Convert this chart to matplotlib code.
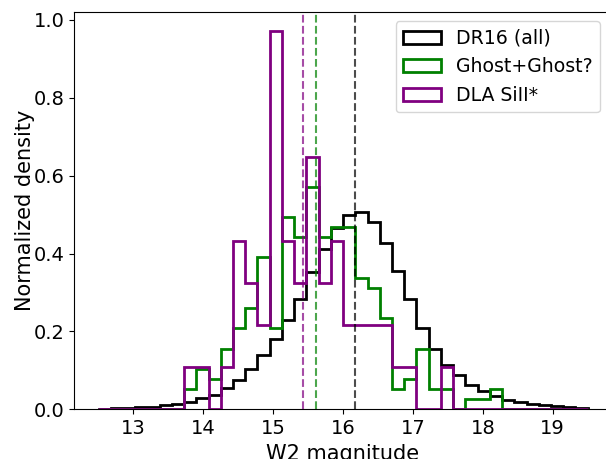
import numpy as np
import matplotlib
matplotlib.use('Agg')
import matplotlib.pyplot as plt

# W2 bins shared by the three samples
bins = np.linspace(12.5, 19.5, 41)

# normalized densities per bin
dr16_all = [0.002, 0.003, 0.004, 0.005, 0.007, 0.011, 0.013, 0.018, 0.029, 0.037,
            0.055, 0.074, 0.103, 0.139, 0.180, 0.229, 0.283, 0.352, 0.412, 0.466,
            0.498, 0.506, 0.480, 0.427, 0.356, 0.284, 0.208, 0.155, 0.114, 0.088,
            0.062, 0.047, 0.034, 0.025, 0.018, 0.014, 0.011, 0.008, 0.006, 0.003]

ghost = [0, 0, 0, 0, 0, 0, 0, 0.052, 0.104, 0.078,
         0.156, 0.208, 0.260, 0.390, 0.208, 0.494, 0.442, 0.571, 0.442, 0.468,
         0.468, 0.338, 0.312, 0.234, 0.052, 0.078, 0.156, 0.052, 0.052, 0,
         0.026, 0.026, 0.052, 0, 0, 0, 0, 0, 0, 0]

dla_siII = [0, 0, 0, 0, 0, 0, 0, 0.108, 0.108, 0,
            0.108, 0.432, 0.324, 0.216, 0.972, 0.432, 0.324, 0.648, 0.324, 0.432,
            0.216, 0.216, 0.216, 0.216, 0.108, 0.108, 0, 0, 0.108, 0,
            0, 0, 0, 0, 0, 0, 0, 0, 0, 0]

# medians
med_all = 16.17
med_ghost = 15.61
med_dla = 15.43

centers = 0.5 * (bins[:-1] + bins[1:])

fig = plt.figure(figsize=(6.06, 4.59), dpi=100)
ax = fig.add_axes([0.1221, 0.1083, 0.888, 0.8656])

ax.hist(centers, bins=bins, weights=dr16_all, histtype='step', color='k', lw=2, label='DR16 (all)')
ax.hist(centers, bins=bins, weights=ghost, histtype='step', color='green', lw=2, label='Ghost+Ghost?')
ax.hist(centers, bins=bins, weights=dla_siII, histtype='step', color='purple', lw=2, label='DLA SiII*')

ax.axvline(med_all, color='k', ls='--', lw=1.5, alpha=0.7)
ax.axvline(med_ghost, color='green', ls='--', lw=1.5, alpha=0.7)
ax.axvline(med_dla, color='purple', ls='--', lw=1.5, alpha=0.7)

ax.set_xlim(12.15, 19.85)
ax.set_xticks([13, 14, 15, 16, 17, 18, 19])
ax.set_yticks([0.0, 0.2, 0.4, 0.6, 0.8, 1.0])
ax.tick_params(labelsize=14)
ax.set_xlabel('W2 magnitude', fontsize=15)
ax.set_ylabel('Normalized density', fontsize=15, labelpad=-1)
ax.legend(loc='upper right', fontsize=13.6, bbox_to_anchor=(0.9955, 1.0))

fig.savefig('out.png', dpi=100)
